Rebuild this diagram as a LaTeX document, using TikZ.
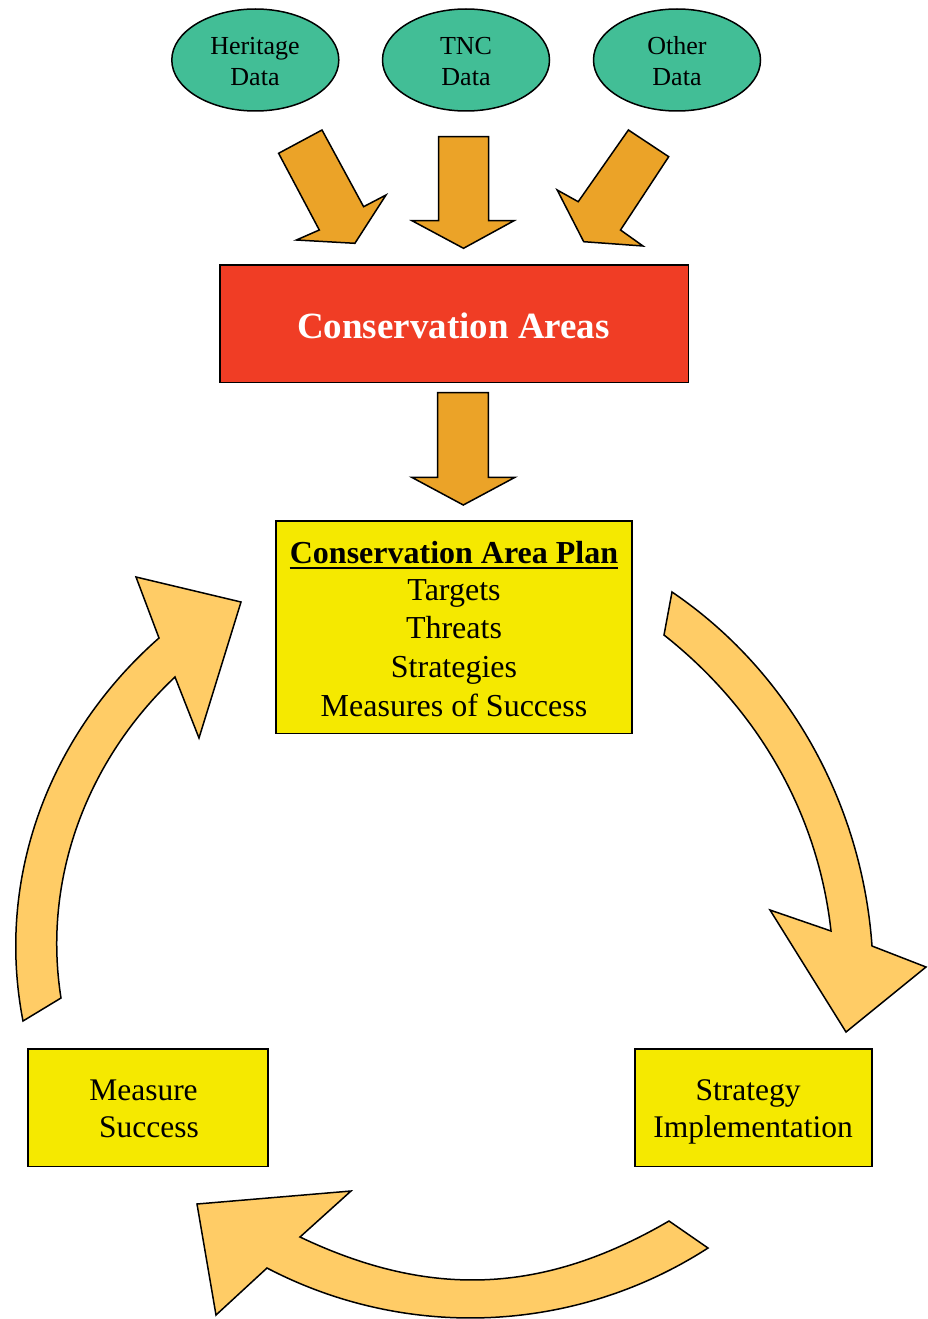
\documentclass[tikz,border=0pt]{standalone}
\usepackage{fontspec}
\setmainfont{Liberation Serif}
\usetikzlibrary{shapes.geometric,calc}
\definecolor{tealfill}{RGB}{66,190,150}
\definecolor{darkorange}{RGB}{235,163,40}
\definecolor{redfill}{RGB}{240,61,37}
\definecolor{yellowfill}{RGB}{245,233,0}
\definecolor{lightorange}{RGB}{255,204,102}
\tikzset{
  dataell/.style={ellipse, draw, line width=1.5pt, fill=tealfill, minimum width=167pt, minimum height=102pt, inner sep=0pt},
  boxnode/.style={rectangle, draw, line width=1.5pt, inner sep=0pt},
  txt/.style={anchor=base, inner sep=0pt},
  elltxt/.style={txt, font=\fontsize{26}{32}\selectfont},
  boxtxt/.style={txt, font=\fontsize{32}{38}\selectfont},
  smalltxt/.style={txt, font=\fontsize{31.5}{37}\selectfont},
  feedarrow/.style={fill=darkorange, draw, line width=1.5pt},
  cyclearrow/.style={fill=lightorange, draw, line width=1.5pt},
}
\begin{document}
\begin{tikzpicture}[x=1pt,y=-1pt]
\useasboundingbox[fill=white] (0,0) rectangle (927,1319);

% data ellipses
\node[dataell] (her) at (255.3,60) {};
\node[dataell] (tnc) at (466,60) {};
\node[dataell] (oth) at (677,60) {};
\node[elltxt] (herA) at (255,54.5) {Heritage};
\node[elltxt] (herB) at (255,86) {Data};
\node[elltxt] (tncA) at (466,54.5) {TNC};
\node[elltxt] (tncB) at (466,86) {Data};
\node[elltxt] (othA) at (677,54.5) {Other};
\node[elltxt] (othB) at (677,86) {Data};

% feeding block arrows
\filldraw[feedarrow] (278.6,153.3) -- (322,130) -- (363.6,206.7) -- (386,195) -- (354.9,243.3) -- (296.4,240) -- (319.3,230) -- cycle;
\filldraw[feedarrow] (438.5,136.7) -- (488.5,136.7) -- (488.5,220.7) -- (514,220.7) -- (463.5,248.3) -- (412,220.7) -- (438.5,220.7) -- cycle;
\filldraw[feedarrow] (628.4,130) -- (668.7,156.7) -- (620.5,230) -- (643,246) -- (583.7,241.7) -- (557.2,190) -- (578.2,201.7) -- cycle;

% conservation areas
\node[boxnode, fill=redfill, minimum width=468.3pt, minimum height=117.7pt] (ca) at (454.15,323.85) {};
\node[txt, text=white, font=\fontsize{37}{42}\selectfont\bfseries] (caT) at (453.5,338.3) {Conservation Areas};

\filldraw[feedarrow] (437.7,392.7) -- (488.3,392.7) -- (488.3,477.3) -- (515,477.3) -- (463.3,505) -- (411.7,477.3) -- (437.7,477.3) -- cycle;

% plan box
\node[boxnode, fill=yellowfill, minimum width=356pt, minimum height=212.5pt] (plan) at (454,627.25) {};
\node[boxtxt, font=\fontsize{32}{38}\selectfont\bfseries] (planT) at (454,563) {Conservation Area Plan};
\draw[line width=2pt] ($(planT.base west)+(0,5.3)$) -- ($(planT.base east)+(0,5.3)$);
\node[boxtxt] (pl1) at (454,600) {Targets};
\node[boxtxt] (pl2) at (454,638.3) {Threats};
\node[boxtxt] (pl3) at (454,677) {Strategies};
\node[boxtxt] (pl4) at (454,716) {Measures of Success};

% bottom boxes
\node[boxnode, fill=yellowfill, minimum width=240pt, minimum height=117.5pt] (meas) at (148,1107.5) {};
\node[smalltxt] (measA) at (143.5,1100) {Measure};
\node[smalltxt] (measB) at (149,1137) {Success};
\node[boxnode, fill=yellowfill, minimum width=237pt, minimum height=117.5pt] (strat) at (753.5,1107.5) {};
\node[smalltxt] (stratA) at (748,1100) {Strategy};
\node[smalltxt] (stratB) at (753,1137) {Implementation};

% cycle arrows
\filldraw[cyclearrow] (672,592) .. controls (790,672) and (862,804.6) .. (872,946) -- (926,967) -- (846,1032) -- (770,910) -- (831,931) .. controls (818,813.4) and (758,709.2) .. (664,635) -- cycle;
\filldraw[cyclearrow] (708,1248) .. controls (575.4,1333.6) and (406.9,1341.1) .. (267,1268) -- (216,1315) -- (197,1204) -- (351,1191) -- (300,1237) .. controls (430.9,1299.2) and (543.7,1293.9) .. (669,1221) -- cycle;
\filldraw[cyclearrow] (159,638) .. controls (49.8,734) and (-5,877) .. (23,1021) -- (61,998) .. controls (42,878) and (87.6,759.3) .. (175,677) -- (199,738) -- (241,602) -- (136,577) -- cycle;
\end{tikzpicture}
\end{document}
